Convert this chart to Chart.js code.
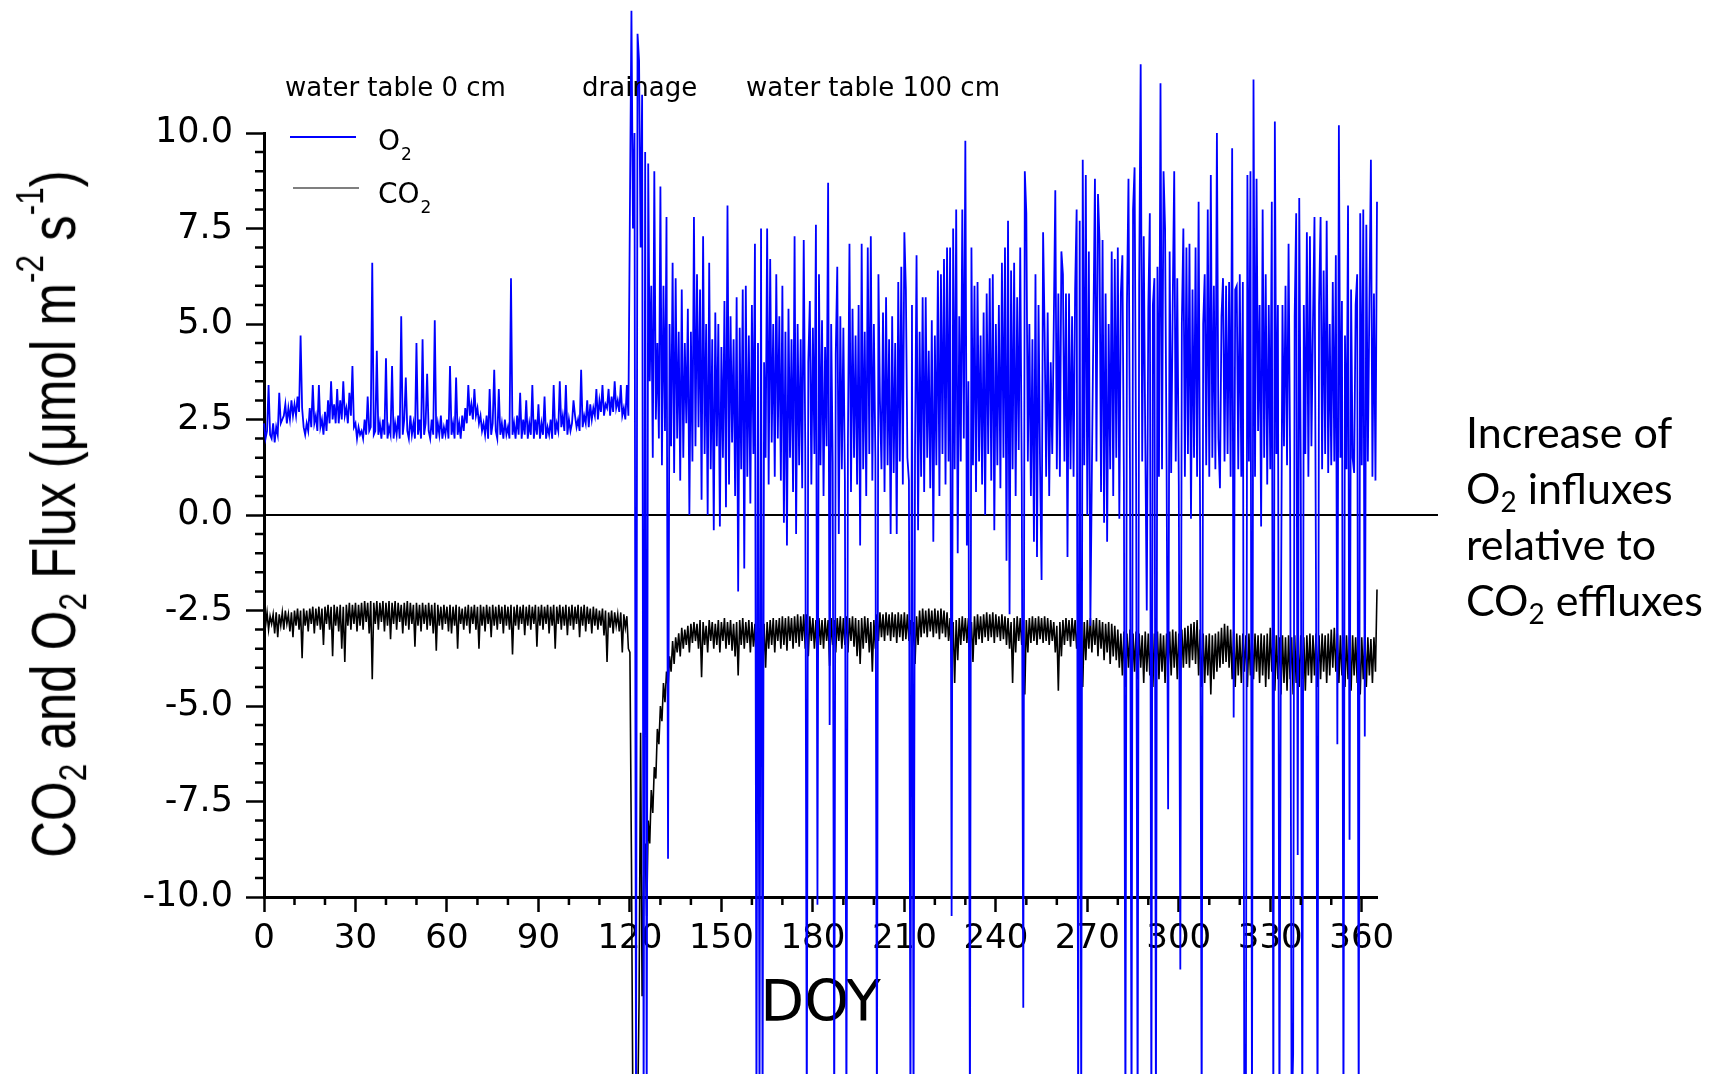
<!DOCTYPE html>
<html><head><meta charset="utf-8">
<script src="https://cdn.jsdelivr.net/npm/chart.js@4.4.1/dist/chart.umd.min.js"></script>
<style>
html,body{margin:0;padding:0;background:#fff;}
#wrap{position:relative;width:1715px;height:1074px;overflow:hidden;background:#fff;}
canvas{position:absolute;left:0;top:0;}
.lbl{position:absolute;white-space:nowrap;color:#000;}
.top{font-family:'DejaVu Sans';font-size:26px;line-height:26px;top:74px;}
#ytitle{font-family:'Liberation Sans';font-size:51px;line-height:51px;left:53px;top:514px;transform:translate(-50%,-50%) rotate(-90deg) scaleY(1.25);}
#ytitle sub,#ytitle sup{font-size:0.62em;line-height:0;}
#ytitle sub{vertical-align:-0.28em;}
#ytitle sup{vertical-align:0.8em;}
#note{font-family:Lato;font-size:43px;line-height:56px;left:1466px;top:404px;}
#note sub{font-size:0.65em;line-height:0;vertical-align:-0.3em;}
</style></head>
<body><div id="wrap"><canvas id="c" width="1715" height="1074"></canvas>
<div class="lbl top" style="left:285px">water table 0 cm</div>
<div class="lbl top" style="left:582px">drainage</div>
<div class="lbl top" style="left:746px">water table 100 cm</div>
<div class="lbl" id="ytitle">CO<sub>2</sub> and O<sub>2</sub> Flux (&mu;mol m<sup>-2</sup> s<sup>-1</sup>)</div>
<div class="lbl" id="note">Increase of<br>O<sub>2</sub> influxes<br>relative to<br>CO<sub>2</sub> effluxes</div>
</div>
<script>
// ---- data (sampled every half day from DOY 0) ----
const sampleStartDay = 0;
const sampleStepDays = 0.5;
const seriesNames = ['O2', 'CO2'];
const xTickValues = [0, 30, 60, 90, 120, 150, 180, 210, 240, 270, 300, 330, 360];
const yTickValues = [-10, -7.5, -5, -2.5, 0, 2.5, 5, 7.5, 10];
const zeroLineDays = [0, 385];

const o2Values = [
 2.4,2.0, 2.2,3.4, 2.1,2.0, 2.4,1.9, 2.3,2.1, 3.2,2.4, 2.5,2.6, 2.9,2.4, 2.8,2.5, 3.0,2.6,
 2.9,2.6, 3.1,2.7, 4.7,2.8, 2.3,2.1, 2.4,2.2, 2.8,2.3, 3.4,2.4, 2.6,2.2, 3.4,2.3, 2.5,2.1,
 2.7,2.2, 3.0,2.4, 3.5,2.5, 2.9,2.4, 3.3,2.4, 3.0,2.5, 3.5,2.6, 2.8,2.4, 3.2,2.6, 3.9,2.3,
 2.4,2.0, 2.3,2.1, 2.2,2.0, 2.5,2.1, 3.1,2.2, 2.3,6.6, 2.1,2.2, 4.3,2.1, 2.4,2.0, 2.5,2.1,
 4.1,2.0, 2.3,2.1, 3.9,2.0, 2.4,2.1, 2.6,2.0, 5.2,2.1, 2.5,3.6, 2.2,2.0, 2.6,2.1, 2.4,2.0,
 4.5,2.1, 2.5,2.0, 4.6,2.1, 2.4,3.7, 2.2,2.0, 2.5,2.1, 5.1,2.0, 2.4,2.1, 2.6,2.0, 2.3,2.1,
 2.5,2.0, 3.9,2.1, 2.4,2.0, 3.6,2.1, 2.4,2.0, 2.6,2.2, 2.8,2.4, 3.4,2.6, 2.9,2.5, 3.3,2.6,
 2.8,2.4, 2.6,2.2, 2.4,2.1, 2.6,2.0, 3.3,2.1, 2.4,3.8, 2.2,2.0, 3.3,2.1, 2.4,2.0, 2.5,2.1,
 2.3,2.0, 6.2,2.1, 2.4,2.0, 2.6,2.1, 3.2,2.0, 2.5,2.1, 3.0,2.0, 2.4,2.1, 3.4,2.0, 2.5,2.1,
 2.9,2.0, 2.4,2.1, 3.1,2.0, 2.3,2.1, 2.5,2.0, 3.4,2.1, 2.4,2.2, 3.5,2.3, 2.6,2.2, 3.4,2.1,
 2.5,2.2, 2.4,3.0, 2.6,2.3, 2.5,2.2, 3.8,2.3, 2.6,2.4, 3.0,2.3, 2.9,2.5, 2.8,2.6, 3.3,2.5,
 3.0,2.7, 3.4,2.6, 2.9,2.8, 3.3,2.6, 3.1,2.7, 3.5,2.8, 3.0,2.7, 3.4,2.6, 2.8,2.5, 3.4,2.6,
 8.0,13.2, 7.5,10.0, -16,12.6, 11.9,7.0, 11.0,-16, 9.5,-16, 9.2,3.5, 6.0,1.5, 9.0,2.5, 4.5,2.0,
 8.6,1.3, 6.0,2.2, 7.8,-9.0, 5.0,1.8, 6.6,1.1, 6.2,2.0, 4.8,0.9, 5.9,1.5, 4.5,2.4, 5.4,0.0,
 4.8,1.4, 7.8,1.8, 6.3,2.3, 5.9,0.4, 7.3,1.6, 5.0,0.0, 6.6,1.2, 4.6,-0.4, 5.3,1.8, 5.0,-0.3,
 4.4,1.5, 5.6,0.2, 8.1,0.8, 5.2,1.9, 4.6,0.5, 5.7,-2.0, 4.9,1.2, 5.9,-1.4, 6.0,1.0, 4.7,0.3,
 5.5,1.6, 7.1,-16, 4.5,-16, 7.5,-16, 4.0,1.5, 7.5,0.8, 6.7,1.9, 5.0,1.0, 6.3,2.0, 5.2,0.9,
 6.0,-0.2, 4.8,-0.8, 5.4,1.5, 4.6,0.6, 7.3,-0.5, 5.0,1.3, 4.6,0.7, 7.2,1.8, -16,4.0, 5.6,0.8,
 4.9,1.6, 7.6,-10.2, 6.3,1.3, 5.1,0.5, 4.4,1.8, 8.7,-5.5, 5.0,1.4, -16,4.2, 6.5,-0.5, 5.2,1.2,
 4.9,0.9, -16,2.0, 7.1,0.6, 5.4,1.5, 4.7,0.8, 5.5,-0.8, 7.1,1.2, 4.8,0.5, 7.0,1.6, 7.3,0.9,
 5.0,1.5, -16,6.3, 3.0,1.2, 5.3,0.6, 5.7,1.3, 4.6,-0.5, 5.2,1.1, 4.5,-0.5, 6.1,1.4, 6.5,0.8,
 7.4,5.9, 1.5,0.9, -16,5.5, -16,1.7, 6.8,-0.4, 4.8,1.0, 5.7,0.6, 5.7,1.5, 4.3,0.7, 5.1,-0.7,
 4.7,1.3, 6.4,0.5, 6.3,1.6, 6.7,0.8, 7.0,1.4, 7.0,-10.5, 7.5,1.2, 8.0,-1.0, 5.2,1.4, 8.0,2.0,
 9.8,-0.8, 3.5,-16, 7.0,1.3, 6.0,0.6, 6.1,1.4, 4.7,0.8, 5.3,0.0, 5.8,1.6, 6.2,0.9, 6.3,-0.4,
 5.0,1.3, 5.5,0.7, 6.6,1.5, 7.0,-1.2, 7.7,-2.6, 6.4,1.2, 6.6,0.5, 5.7,1.7, 7.0,1.0, -12.9,9.0,
 7.9,1.4, 5.0,0.5, 4.6,-0.7, 6.3,-1.1, 5.5,1.3, -1.7,7.4, 4.8,1.0, 5.3,0.5, 4.0,1.6, 5.0,8.5,
 1.2,5.8, 1.0,6.9, 6.3,1.4, 5.8,-1.1, 5.8,1.2, 5.2,1.0, 5.9,8.0, -16,7.7, -16,9.3, 1.3,8.9,
 0.0,6.9, -2.9,1.2, 5.0,8.8, 1.4,8.4, 7.2,0.6, 7.2,-0.2, 5.8,-0.7, 5.0,1.2, 6.9,0.5, 6.7,1.5,
 7.0,-0.1, 5.8,6.8, 0.9,-16, 5.5,8.8, 1.2,-16, 8.0,9.1, 1.0,-16, 6.0,11.8, 1.4,7.3, 2.0,-2.5,
 5.4,7.9, -16,5.5, 6.2,-16, 6.5,1.0, 11.3,1.2, 9.0,7.5, 1.3,-7.7, 6.9,1.1, 5.5,9.0, 1.4,6.2,
 0.8,-11.9, 5.0,7.5, 1.0,7.0, 1.6,7.1, -0.1,5.9, 1.5,7.0, 1.0,8.2, -0.3,-16, 5.0,6.3, 1.3,8.0,
 1.0,8.9, 1.5,6.0, 1.2,10.0, 2.0,0.7, 5.2,6.2, 1.4,6.0, 1.6,6.1, 1.0,9.6, -5.3,5.9, 6.0,1.2,
 6.3,1.0, 6.1,-16, -16,8.9, 1.4,9.0, -16,11.4, 1.0,8.8, 2.2,5.5, -0.3,8.0, 1.5,6.3, 0.8,5.5,
 1.2,8.2, -16,10.3, 1.6,5.5, -16,-2.9, 5.5,1.8, 6.0,1.3, 7.1,1.5, -16,-14.1, 5.2,7.9, -8.9,8.3,
 1.2,-16, 5.5,1.6, 7.4,1.0, 7.3,1.8, 5.0,7.8, -1.85,-16, 5.5,7.8, 1.2,6.4, 1.6,7.7, 1.1,5.0,
 1.3,6.1, 1.4,6.8, -6.0,10.2, 1.5,5.6, -16,4.7, 1.2,8.1, -8.5,5.9, 1.5,1.1, 5.5,6.3, -16,7.9,
 1.3,8.0, -5.8,7.6, 1.4,5.5, 9.3,1.0, 5.8,0.9, 8.2
];

const co2Values = [
 -2.6,-2.9, -2.55,-3.0, -2.65,-2.85, -2.6,-3.1, -2.55,-3.2, -2.6,-2.9, -2.55,-3.0, -2.5,-2.85, -2.6,-3.05, -2.55,-3.2,
 -2.5,-2.9, -2.45,-3.0, -2.5,-3.75, -2.45,-2.9, -2.5,-3.05, -2.45,-2.85, -2.4,-3.1, -2.45,-2.9, -2.4,-3.0, -2.45,-3.4,
 -2.4,-2.85, -2.35,-3.0, -2.4,-3.7, -2.35,-2.9, -2.4,-3.05, -2.35,-3.5, -2.4,-3.85, -2.35,-2.9, -2.3,-3.0, -2.35,-2.85,
 -2.3,-3.05, -2.35,-2.9, -2.3,-3.0, -2.25,-2.8, -2.3,-3.1, -2.25,-4.3, -2.3,-2.85, -2.25,-3.0, -2.3,-2.8, -2.25,-3.05,
 -2.3,-2.9, -2.25,-3.25, -2.3,-2.85, -2.25,-3.0, -2.3,-2.8, -2.35,-3.1, -2.3,-2.9, -2.25,-3.0, -2.3,-2.85, -2.35,-3.45,
 -2.3,-2.9, -2.35,-3.05, -2.3,-2.85, -2.35,-3.0, -2.3,-2.9, -2.35,-3.1, -2.3,-3.55, -2.35,-2.9, -2.4,-3.0, -2.35,-2.85,
 -2.4,-3.05, -2.35,-3.1, -2.4,-2.9, -2.35,-3.5, -2.4,-2.85, -2.45,-3.0, -2.4,-2.9, -2.35,-3.1, -2.4,-2.85, -2.35,-3.0,
 -2.4,-3.5, -2.35,-2.9, -2.4,-3.05, -2.35,-2.85, -2.4,-3.2, -2.35,-2.9, -2.4,-3.0, -2.35,-2.85, -2.4,-3.1, -2.35,-2.9,
 -2.4,-3.0, -2.35,-3.65, -2.4,-2.9, -2.35,-3.0, -2.4,-2.85, -2.35,-3.15, -2.4,-2.9, -2.35,-3.0, -2.4,-2.85, -2.35,-3.45,
 -2.4,-2.9, -2.35,-3.0, -2.4,-2.85, -2.35,-3.1, -2.4,-2.9, -2.35,-3.5, -2.4,-2.85, -2.35,-3.0, -2.4,-2.9, -2.35,-3.15,
 -2.4,-2.9, -2.35,-3.0, -2.4,-2.85, -2.35,-3.2, -2.4,-2.9, -2.35,-3.05, -2.4,-2.85, -2.45,-3.1, -2.4,-2.9, -2.45,-3.0,
 -2.5,-2.9, -2.45,-3.15, -2.5,-3.85, -2.55,-2.95, -2.5,-3.1, -2.55,-2.9, -2.6,-3.05, -2.55,-3.6, -2.6,-2.95, -2.65,-3.5,
 -3.6,-9.0, -16,-16, -16,-16, -12.7,-5.7, -12.6,-9.5, -8.6,-10.5, -8.0,-8.6, -7.2,-7.8, -6.6,-6.9, -5.6,-6.0,
 -5.0,-5.4, -4.4,-4.9, -4.1,-4.5, -3.7,-4.1, -3.3,-3.9, -3.2,-3.6, -3.1,-3.7, -2.95,-3.5, -3.0,-3.4, -2.9,-3.6,
 -2.85,-3.35, -2.8,-3.3, -2.85,-3.5, -2.75,-4.25, -2.8,-3.4, -2.9,-3.6, -2.75,-3.3, -2.8,-3.5, -2.85,-3.4, -2.75,-3.6,
 -2.8,-3.3, -2.7,-3.5, -2.8,-3.4, -2.75,-3.55, -2.85,-3.7, -2.8,-4.2, -2.75,-3.4, -2.7,-3.5, -2.8,-3.35, -2.75,-3.6,
 -2.8,-3.45, -2.85,-4.0, -3.0,-4.6, -2.9,-4.3, -2.85,-4.0, -2.8,-3.5, -2.75,-3.4, -2.7,-3.6, -2.75,-3.3, -2.7,-3.5,
 -2.65,-3.4, -2.7,-3.55, -2.65,-3.3, -2.7,-3.5, -2.65,-3.35, -2.6,-3.45, -2.65,-3.3, -2.6,-3.5, -2.6,-3.7, -2.65,-3.3,
 -2.7,-3.5, -2.75,-3.8, -2.7,-3.4, -2.75,-3.5, -2.7,-3.3, -2.75,-3.95, -2.7,-3.4, -2.75,-3.6, -2.7,-3.3, -2.65,-3.5,
 -2.7,-3.4, -2.65,-3.6, -2.7,-3.3, -2.65,-3.45, -2.7,-3.7, -2.75,-3.9, -2.7,-3.5, -2.65,-3.35, -2.7,-3.6, -2.8,-4.1,
 -2.75,-3.5, -2.6,-3.3, -2.55,-3.2, -2.6,-3.3, -2.55,-3.15, -2.6,-3.3, -2.55,-3.2, -2.6,-3.35, -2.55,-3.2, -2.6,-3.3,
 -2.55,-3.25, -2.6,-3.3, -2.75,-3.6, -2.8,-3.9, -2.65,-3.4, -2.5,-3.2, -2.45,-3.1, -2.5,-3.2, -2.45,-3.05, -2.5,-3.2,
 -2.45,-3.1, -2.5,-3.25, -2.45,-3.1, -2.5,-3.2, -2.55,-3.3, -2.7,-4.0, -2.8,-4.4, -2.75,-3.8, -2.7,-3.4, -2.65,-3.3,
 -2.7,-3.35, -2.7,-3.5, -2.8,-3.85, -2.65,-3.4, -2.6,-3.25, -2.65,-3.35, -2.6,-3.2, -2.55,-3.3, -2.6,-3.2, -2.55,-3.35,
 -2.6,-3.2, -2.65,-3.3, -2.6,-3.25, -2.65,-3.4, -2.7,-3.5, -2.8,-4.4, -2.7,-3.6, -2.65,-3.3, -2.7,-3.4, -2.8,-4.7,
 -2.75,-3.6, -2.7,-3.35, -2.65,-3.3, -2.7,-3.4, -2.65,-3.25, -2.7,-3.35, -2.65,-3.3, -2.7,-3.4, -2.75,-3.3, -2.8,-3.6,
 -2.9,-4.6, -2.8,-3.7, -2.75,-3.4, -2.7,-3.3, -2.75,-3.45, -2.7,-3.3, -2.75,-3.5, -2.85,-4.3, -2.9,-4.5, -2.8,-3.8,
 -2.75,-3.5, -2.7,-3.6, -2.75,-3.4, -2.7,-3.7, -2.75,-3.5, -2.8,-3.8, -2.85,-3.6, -2.8,-3.9, -2.85,-3.7, -2.9,-3.8,
 -3.0,-4.0, -3.1,-4.2, -3.05,-4.5, -3.1,-4.0, -3.0,-4.8, -3.1,-4.1, -3.05,-4.3, -3.1,-4.0, -3.15,-4.4, -3.05,-4.1,
 -3.1,-4.2, -3.15,-4.5, -3.1,-4.0, -3.05,-4.3, -3.1,-4.1, -3.15,-4.4, -3.1,-4.0, -3.05,-4.2, -3.0,-4.0, -3.05,-4.3,
 -3.1,-4.1, -3.0,-4.0, -2.95,-3.9, -2.9,-4.0, -2.85,-3.8, -2.8,-3.9, -2.75,-4.2, -3.0,-4.5, -3.1,-4.4, -3.15,-4.2,
 -3.1,-4.7, -3.15,-4.3, -3.1,-4.1, -3.05,-4.0, -2.95,-3.9, -2.85,-3.85, -2.9,-4.0, -3.0,-4.3, -3.05,-4.5, -3.1,-4.2,
 -3.15,-4.4, -3.1,-4.1, -3.15,-4.5, -3.1,-4.2, -3.15,-4.3, -3.1,-4.1, -3.15,-4.4, -3.1,-4.2, -3.15,-4.5, -3.1,-4.3,
 -2.95,-4.1, -3.1,-4.6, -3.15,-4.3, -3.2,-4.7, -3.15,-4.4, -3.2,-4.6, -3.15,-4.3, -3.2,-4.7, -3.15,-4.4, -3.2,-4.5,
 -3.15,-4.3, -3.2,-4.6, -3.15,-4.2, -3.1,-4.4, -3.15,-4.2, -3.1,-4.5, -3.15,-4.3, -3.1,-4.1, -3.15,-4.4, -3.1,-4.2,
 -3.0,-4.0, -2.95,-4.1, -3.1,-4.4, -3.15,-4.2, -3.2,-4.5, -3.15,-4.3, -3.2,-4.6, -3.15,-4.2, -3.2,-4.4, -3.25,-4.7,
 -3.2,-4.3, -3.15,-4.5, -3.2,-4.2, -3.25,-4.4, -3.2,-4.1, -1.95
];

// ---- build library data from the arrays ----
const toPoints = vals => vals.map((v, i) => ({x: sampleStartDay + i * sampleStepDays, y: v}));
const o2Points = toPoints(o2Values);
const co2Points = toPoints(co2Values);
const zeroPoints = zeroLineDays.map(d => ({x: d, y: 0}));

const xMinor = [], yMinor = [];
for (let d = 10; d <= 360; d += 10) if (d % 30 !== 0) xMinor.push(d);
for (let k = -20; k <= 20; k++) if (k % 5 !== 0) yMinor.push(k / 2);

const decor = {
  id: 'decor',
  afterDraw(chart) {
    const {ctx, chartArea: a, scales: {x, y}} = chart;
    ctx.save();
    ctx.strokeStyle = '#000';
    ctx.lineWidth = 2.5;
    ctx.beginPath();
    for (const v of yMinor) { const p = y.getPixelForValue(v); ctx.moveTo(a.left, p); ctx.lineTo(a.left - 9, p); }
    for (const v of xMinor) { const p = x.getPixelForValue(v); ctx.moveTo(p, a.bottom); ctx.lineTo(p, a.bottom + 8); }
    ctx.stroke();
    // inline legend
    const rows = [{ds: chart.data.datasets[0], lw: 2, ly: 4, x0: 26, by: 17},
                  {ds: chart.data.datasets[1], lw: 1.2, ly: 55, x0: 29, by: 70}];
    for (const r of rows) {
      ctx.strokeStyle = r.ds.borderColor;
      ctx.lineWidth = r.lw;
      ctx.beginPath();
      ctx.moveTo(a.left + r.x0, a.top + r.ly);
      ctx.lineTo(a.left + r.x0 + 66, a.top + r.ly);
      ctx.stroke();
      const label = r.ds.label;
      const main = label.slice(0, -1), sub = label.slice(-1);
      ctx.fillStyle = '#000';
      ctx.textBaseline = 'alphabetic';
      ctx.textAlign = 'left';
      ctx.font = '28px "DejaVu Sans"';
      const tx = a.left + 114;
      ctx.fillText(main, tx, a.top + r.by);
      const w = ctx.measureText(main).width;
      ctx.font = '17px "DejaVu Sans"';
      ctx.fillText(sub, tx + w + 1, a.top + r.by + 10);
    }
    ctx.restore();
  }
};

const axisCommon = {
  type: 'linear',
  border: {display: true, color: '#000', width: 3},
};

new Chart(document.getElementById('c'), {
  type: 'line',
  data: {
    datasets: [
      {label: seriesNames[0], data: o2Points, borderColor: '#0000ff', borderWidth: 1.8, pointRadius: 0, tension: 0, clip: false},
      {label: seriesNames[1], data: co2Points, borderColor: '#000000', borderWidth: 1.6, pointRadius: 0, tension: 0, clip: false},
      {label: 'zero', data: zeroPoints, borderColor: '#000000', borderWidth: 2, pointRadius: 0, clip: false}
    ]
  },
  options: {
    responsive: false,
    animation: false,
    devicePixelRatio: 1,
    layout: {padding: {left: 0, top: 133, right: 338, bottom: 0}},
    plugins: {legend: {display: false}, tooltip: {enabled: false}},
    scales: {
      x: Object.assign({}, axisCommon, {
        min: 0, max: 365,
        afterBuildTicks: s => { s.ticks = xTickValues.map(v => ({value: v})); },
        afterFit: s => { s.height = 177; },
        grid: {display: true, drawOnChartArea: false, drawTicks: true, tickLength: 15, tickWidth: 2.5, tickColor: '#000'},
        ticks: {font: {family: 'DejaVu Sans', size: 34}, color: '#000', padding: 7, maxRotation: 0, autoSkip: false, callback: v => String(v)},
        title: {display: true, text: 'DOY', color: '#000', font: {family: 'DejaVu Sans', size: 57}, padding: {top: 0, bottom: 34}}
      }),
      y: Object.assign({}, axisCommon, {
        min: -10, max: 10,
        afterBuildTicks: s => { s.ticks = yTickValues.map(v => ({value: v})); },
        afterFit: s => { s.width = 264; },
        grid: {display: true, drawOnChartArea: false, drawTicks: true, tickLength: 18, tickWidth: 2.5, tickColor: '#000'},
        ticks: {font: {family: 'DejaVu Sans', size: 35}, color: '#000', padding: 13, callback: v => Number(v).toFixed(1)}
      })
    }
  },
  plugins: [decor]
});
</script>
</body></html>
